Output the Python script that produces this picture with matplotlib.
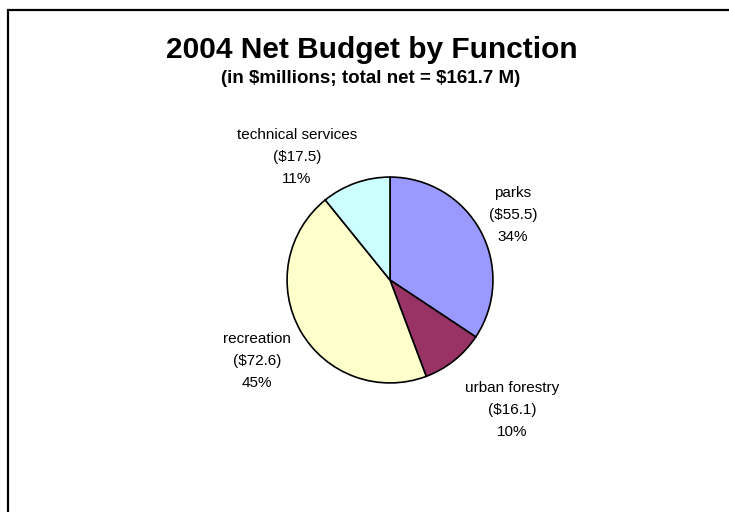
import matplotlib
matplotlib.use('Agg')
import matplotlib.pyplot as plt
from matplotlib.patches import Rectangle

plt.rcParams['font.family'] = ['Liberation Sans', 'DejaVu Sans']
plt.rcParams['text.parse_math'] = False

# net budget by function, $ millions
functions = ['parks', 'urban forestry', 'recreation', 'technical services']
amounts = [55.5, 16.1, 72.6, 17.5]
colors = ['#9999FF', '#993366', '#FFFFCC', '#CCFFFF']

title = '2004 Net Budget by Function'
subtitle = '(in $millions; total net = $161.7 M)'

W, H = 729, 512
fig = plt.figure(figsize=(W / 100, H / 100), dpi=100)

def px(x, y):
    return x / W, 1 - y / H

# slide frame, runs off the right and bottom edges
x0, y0 = px(8, 10)
fig.patches.append(Rectangle((x0, -0.1), 1.2, y0 + 0.1, transform=fig.transFigure,
                             fill=False, edgecolor='black', linewidth=1.6))

fig.text(*px(372, 58), title, ha='center', va='baseline',
         fontsize=21.5, fontweight='bold')
fig.text(*px(371, 83), subtitle, ha='center', va='baseline',
         fontsize=13.5, fontweight='bold')

# pie centre (390, 280), radius 105 px
cx, cy, r = 390, 280, 105
ax = fig.add_axes([(cx - r) / W, 1 - (cy + r) / H, 2 * r / W, 2 * r / H])
ax.pie(amounts, colors=colors, startangle=90, counterclock=False, radius=1,
       wedgeprops=dict(edgecolor='black', linewidth=1.2))
ax.set_xlim(-1.02, 1.02)
ax.set_ylim(-1.02, 1.02)
ax.set_aspect('equal')
ax.axis('off')

total = sum(amounts)
label_pos = [(513, 215), (512, 410), (257, 361), (297, 157)]
for name, val, (lx, ly) in zip(functions, amounts, label_pos):
    pct = val / total * 100
    txt = f'{name}\n(${val:.1f})\n{pct:.0f}%'
    fig.text(*px(lx, ly), txt, ha='center', va='center', fontsize=11,
             linespacing=1.75, color='black')

fig.savefig('out.png', dpi=100)
